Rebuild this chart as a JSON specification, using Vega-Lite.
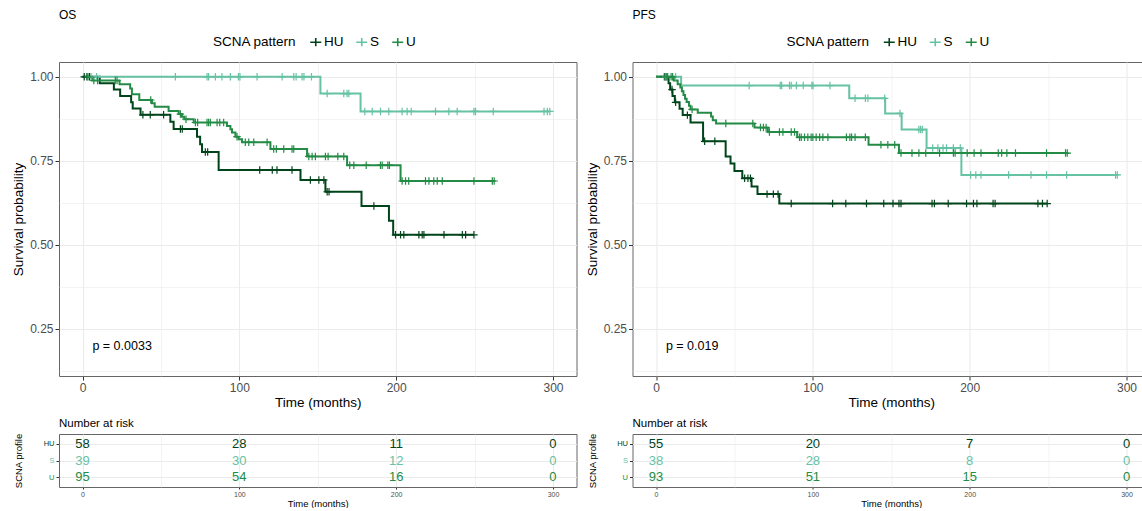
{
  "$schema": "https://vega.github.io/schema/vega-lite/v6.json",
  "background": "white",
  "padding": {"left": 11, "top": 8, "right": 0, "bottom": 0},
  "config": {
    "font": "Liberation Sans",
    "view": {"stroke": "#666666", "strokeWidth": 1},
    "title": {"fontWeight": "normal", "color": "#000000"}
  },
  "datasets": {
    "os": [
      {"g":"HU","t":0,"s":1,"c":0},{"g":"HU","t":1.1,"s":1,"c":1},{"g":"HU","t":2.8,"s":1,"c":1},{"g":"HU","t":4.5,"s":1,"c":1},{"g":"HU","t":11,"s":0.981,"c":0},{"g":"HU","t":20,"s":0.962,"c":0},{"g":"HU","t":24,"s":0.943,"c":0},{"g":"HU","t":31,"s":0.924,"c":0},{"g":"HU","t":32,"s":0.906,"c":0},{"g":"HU","t":37,"s":0.887,"c":0},{"g":"HU","t":38.5,"s":0.887,"c":1},{"g":"HU","t":43.2,"s":0.887,"c":1},{"g":"HU","t":51.7,"s":0.887,"c":1},{"g":"HU","t":56,"s":0.866,"c":0},{"g":"HU","t":58.1,"s":0.845,"c":0},{"g":"HU","t":62.4,"s":0.845,"c":1},{"g":"HU","t":63.6,"s":0.845,"c":1},{"g":"HU","t":73,"s":0.822,"c":0},{"g":"HU","t":75,"s":0.799,"c":0},{"g":"HU","t":76.2,"s":0.776,"c":0},{"g":"HU","t":78.3,"s":0.776,"c":1},{"g":"HU","t":79.8,"s":0.776,"c":1},{"g":"HU","t":86.8,"s":0.723,"c":0},{"g":"HU","t":113,"s":0.723,"c":1},{"g":"HU","t":121,"s":0.723,"c":1},{"g":"HU","t":124,"s":0.723,"c":1},{"g":"HU","t":133.6,"s":0.723,"c":1},{"g":"HU","t":139,"s":0.693,"c":0},{"g":"HU","t":145.3,"s":0.693,"c":1},{"g":"HU","t":150.7,"s":0.693,"c":1},{"g":"HU","t":153.9,"s":0.693,"c":1},{"g":"HU","t":154.9,"s":0.658,"c":0},{"g":"HU","t":156,"s":0.658,"c":1},{"g":"HU","t":157.2,"s":0.658,"c":1},{"g":"HU","t":177.9,"s":0.616,"c":0},{"g":"HU","t":185.8,"s":0.616,"c":1},{"g":"HU","t":195.4,"s":0.572,"c":0},{"g":"HU","t":198.1,"s":0.53,"c":0},{"g":"HU","t":199.6,"s":0.53,"c":1},{"g":"HU","t":202.8,"s":0.53,"c":1},{"g":"HU","t":204.9,"s":0.53,"c":1},{"g":"HU","t":214.5,"s":0.53,"c":1},{"g":"HU","t":216.6,"s":0.53,"c":1},{"g":"HU","t":217.7,"s":0.53,"c":1},{"g":"HU","t":230.5,"s":0.53,"c":1},{"g":"HU","t":242.2,"s":0.53,"c":1},{"g":"HU","t":244.3,"s":0.53,"c":1},{"g":"HU","t":249.6,"s":0.53,"c":1},
      {"g":"S","t":0,"s":1,"c":0},{"g":"S","t":5.5,"s":1,"c":1},{"g":"S","t":9,"s":1,"c":1},{"g":"S","t":59.2,"s":1,"c":1},{"g":"S","t":79.4,"s":1,"c":1},{"g":"S","t":80.4,"s":1,"c":1},{"g":"S","t":84.7,"s":1,"c":1},{"g":"S","t":88.9,"s":1,"c":1},{"g":"S","t":94.3,"s":1,"c":1},{"g":"S","t":99.4,"s":1,"c":1},{"g":"S","t":100.4,"s":1,"c":1},{"g":"S","t":111.3,"s":1,"c":1},{"g":"S","t":127.3,"s":1,"c":1},{"g":"S","t":134.7,"s":1,"c":1},{"g":"S","t":136.2,"s":1,"c":1},{"g":"S","t":140,"s":1,"c":1},{"g":"S","t":141.2,"s":1,"c":1},{"g":"S","t":146,"s":1,"c":1},{"g":"S","t":151.7,"s":0.95,"c":0},{"g":"S","t":156,"s":0.95,"c":1},{"g":"S","t":166.6,"s":0.95,"c":1},{"g":"S","t":168.7,"s":0.95,"c":1},{"g":"S","t":169.8,"s":0.95,"c":1},{"g":"S","t":177.3,"s":0.897,"c":0},{"g":"S","t":180,"s":0.897,"c":1},{"g":"S","t":184.7,"s":0.897,"c":1},{"g":"S","t":190,"s":0.897,"c":1},{"g":"S","t":195.3,"s":0.897,"c":1},{"g":"S","t":203.8,"s":0.897,"c":1},{"g":"S","t":207,"s":0.897,"c":1},{"g":"S","t":209.6,"s":0.897,"c":1},{"g":"S","t":225.1,"s":0.897,"c":1},{"g":"S","t":233.6,"s":0.897,"c":1},{"g":"S","t":238.9,"s":0.897,"c":1},{"g":"S","t":249.6,"s":0.897,"c":1},{"g":"S","t":250.6,"s":0.897,"c":1},{"g":"S","t":261.9,"s":0.897,"c":1},{"g":"S","t":294.3,"s":0.897,"c":1},{"g":"S","t":296.4,"s":0.897,"c":1},{"g":"S","t":298,"s":0.897,"c":1},
      {"g":"U","t":0,"s":1,"c":0},{"g":"U","t":3.5,"s":1,"c":1},{"g":"U","t":6,"s":0.989,"c":0},{"g":"U","t":7.2,"s":0.989,"c":1},{"g":"U","t":9.6,"s":0.989,"c":1},{"g":"U","t":20.9,"s":0.989,"c":1},{"g":"U","t":22,"s":0.989,"c":1},{"g":"U","t":23.6,"s":0.978,"c":0},{"g":"U","t":30.4,"s":0.965,"c":0},{"g":"U","t":31.5,"s":0.948,"c":0},{"g":"U","t":36.2,"s":0.931,"c":0},{"g":"U","t":43.5,"s":0.931,"c":1},{"g":"U","t":44.3,"s":0.921,"c":0},{"g":"U","t":46,"s":0.911,"c":0},{"g":"U","t":54.9,"s":0.898,"c":0},{"g":"U","t":61.3,"s":0.889,"c":0},{"g":"U","t":62.4,"s":0.889,"c":1},{"g":"U","t":63.4,"s":0.881,"c":0},{"g":"U","t":64.9,"s":0.874,"c":0},{"g":"U","t":66,"s":0.874,"c":1},{"g":"U","t":70.9,"s":0.864,"c":0},{"g":"U","t":72,"s":0.864,"c":1},{"g":"U","t":73.4,"s":0.864,"c":1},{"g":"U","t":79.4,"s":0.864,"c":1},{"g":"U","t":80.4,"s":0.864,"c":1},{"g":"U","t":81.5,"s":0.864,"c":1},{"g":"U","t":85.8,"s":0.864,"c":1},{"g":"U","t":87.5,"s":0.864,"c":1},{"g":"U","t":90,"s":0.864,"c":1},{"g":"U","t":92.1,"s":0.854,"c":0},{"g":"U","t":94.3,"s":0.844,"c":0},{"g":"U","t":95.3,"s":0.834,"c":0},{"g":"U","t":97.5,"s":0.822,"c":0},{"g":"U","t":98.5,"s":0.822,"c":1},{"g":"U","t":99.6,"s":0.814,"c":0},{"g":"U","t":101.7,"s":0.805,"c":0},{"g":"U","t":103.8,"s":0.805,"c":1},{"g":"U","t":106,"s":0.805,"c":1},{"g":"U","t":109.2,"s":0.805,"c":1},{"g":"U","t":117.7,"s":0.805,"c":1},{"g":"U","t":119.8,"s":0.785,"c":0},{"g":"U","t":121.9,"s":0.785,"c":1},{"g":"U","t":123.6,"s":0.785,"c":1},{"g":"U","t":128.3,"s":0.785,"c":1},{"g":"U","t":133.6,"s":0.785,"c":1},{"g":"U","t":134.7,"s":0.785,"c":1},{"g":"U","t":143.2,"s":0.763,"c":0},{"g":"U","t":144.3,"s":0.763,"c":1},{"g":"U","t":146.4,"s":0.763,"c":1},{"g":"U","t":148.5,"s":0.763,"c":1},{"g":"U","t":154.9,"s":0.763,"c":1},{"g":"U","t":156.6,"s":0.763,"c":1},{"g":"U","t":162.8,"s":0.763,"c":1},{"g":"U","t":166.6,"s":0.763,"c":1},{"g":"U","t":168.7,"s":0.737,"c":0},{"g":"U","t":170.4,"s":0.737,"c":1},{"g":"U","t":173,"s":0.737,"c":1},{"g":"U","t":180.9,"s":0.737,"c":1},{"g":"U","t":190,"s":0.737,"c":1},{"g":"U","t":191.1,"s":0.737,"c":1},{"g":"U","t":194.7,"s":0.737,"c":1},{"g":"U","t":195.7,"s":0.737,"c":1},{"g":"U","t":202.8,"s":0.69,"c":0},{"g":"U","t":203.8,"s":0.69,"c":1},{"g":"U","t":206,"s":0.69,"c":1},{"g":"U","t":208,"s":0.69,"c":1},{"g":"U","t":218.7,"s":0.69,"c":1},{"g":"U","t":220.9,"s":0.69,"c":1},{"g":"U","t":224,"s":0.69,"c":1},{"g":"U","t":226.2,"s":0.69,"c":1},{"g":"U","t":229.4,"s":0.69,"c":1},{"g":"U","t":249.6,"s":0.69,"c":1},{"g":"U","t":261.3,"s":0.69,"c":1},{"g":"U","t":262.5,"s":0.69,"c":1}
    ],
    "pfs": [
      {"g":"HU","t":0,"s":1,"c":0},{"g":"HU","t":5.3,"s":1,"c":1},{"g":"HU","t":6.4,"s":1,"c":1},{"g":"HU","t":8,"s":0.981,"c":0},{"g":"HU","t":9,"s":0.962,"c":0},{"g":"HU","t":10.2,"s":0.962,"c":1},{"g":"HU","t":10.5,"s":0.943,"c":0},{"g":"HU","t":12,"s":0.924,"c":0},{"g":"HU","t":12.5,"s":0.924,"c":1},{"g":"HU","t":15,"s":0.905,"c":0},{"g":"HU","t":17,"s":0.886,"c":0},{"g":"HU","t":20,"s":0.886,"c":1},{"g":"HU","t":22,"s":0.864,"c":0},{"g":"HU","t":30,"s":0.808,"c":0},{"g":"HU","t":31,"s":0.808,"c":1},{"g":"HU","t":37.5,"s":0.808,"c":1},{"g":"HU","t":44.4,"s":0.763,"c":0},{"g":"HU","t":47.5,"s":0.742,"c":0},{"g":"HU","t":50,"s":0.72,"c":0},{"g":"HU","t":55,"s":0.698,"c":0},{"g":"HU","t":56.5,"s":0.698,"c":1},{"g":"HU","t":58.6,"s":0.698,"c":1},{"g":"HU","t":60.2,"s":0.698,"c":1},{"g":"HU","t":60.9,"s":0.674,"c":0},{"g":"HU","t":64.7,"s":0.651,"c":0},{"g":"HU","t":70.8,"s":0.651,"c":1},{"g":"HU","t":74.8,"s":0.651,"c":1},{"g":"HU","t":77.8,"s":0.651,"c":1},{"g":"HU","t":78.6,"s":0.623,"c":0},{"g":"HU","t":86.2,"s":0.623,"c":1},{"g":"HU","t":112.6,"s":0.623,"c":1},{"g":"HU","t":121,"s":0.623,"c":1},{"g":"HU","t":134.2,"s":0.623,"c":1},{"g":"HU","t":145.2,"s":0.623,"c":1},{"g":"HU","t":151.1,"s":0.623,"c":1},{"g":"HU","t":154.9,"s":0.623,"c":1},{"g":"HU","t":156.2,"s":0.623,"c":1},{"g":"HU","t":176,"s":0.623,"c":1},{"g":"HU","t":177.5,"s":0.623,"c":1},{"g":"HU","t":186.3,"s":0.623,"c":1},{"g":"HU","t":198,"s":0.623,"c":1},{"g":"HU","t":202.4,"s":0.623,"c":1},{"g":"HU","t":204.6,"s":0.623,"c":1},{"g":"HU","t":214.9,"s":0.623,"c":1},{"g":"HU","t":216.2,"s":0.623,"c":1},{"g":"HU","t":243.5,"s":0.623,"c":1},{"g":"HU","t":246.4,"s":0.623,"c":1},{"g":"HU","t":249.4,"s":0.623,"c":1},
      {"g":"S","t":0,"s":1,"c":0},{"g":"S","t":5.9,"s":1,"c":1},{"g":"S","t":7,"s":1,"c":1},{"g":"S","t":12.5,"s":1,"c":1},{"g":"S","t":16,"s":0.974,"c":0},{"g":"S","t":59.4,"s":0.974,"c":1},{"g":"S","t":79.2,"s":0.974,"c":1},{"g":"S","t":80.1,"s":0.974,"c":1},{"g":"S","t":85.1,"s":0.974,"c":1},{"g":"S","t":86.2,"s":0.974,"c":1},{"g":"S","t":89.5,"s":0.974,"c":1},{"g":"S","t":93.9,"s":0.974,"c":1},{"g":"S","t":99.4,"s":0.974,"c":1},{"g":"S","t":100.1,"s":0.974,"c":1},{"g":"S","t":110.9,"s":0.974,"c":1},{"g":"S","t":123.2,"s":0.936,"c":0},{"g":"S","t":126.9,"s":0.936,"c":1},{"g":"S","t":133.5,"s":0.936,"c":1},{"g":"S","t":135.1,"s":0.936,"c":1},{"g":"S","t":145.8,"s":0.936,"c":1},{"g":"S","t":146.1,"s":0.891,"c":0},{"g":"S","t":155.5,"s":0.891,"c":1},{"g":"S","t":156.6,"s":0.843,"c":0},{"g":"S","t":167.6,"s":0.843,"c":1},{"g":"S","t":168.7,"s":0.843,"c":1},{"g":"S","t":169.8,"s":0.843,"c":1},{"g":"S","t":172.5,"s":0.788,"c":0},{"g":"S","t":176.4,"s":0.788,"c":1},{"g":"S","t":179.7,"s":0.788,"c":1},{"g":"S","t":183,"s":0.788,"c":1},{"g":"S","t":185.2,"s":0.788,"c":1},{"g":"S","t":189.6,"s":0.788,"c":1},{"g":"S","t":194,"s":0.788,"c":1},{"g":"S","t":194.7,"s":0.708,"c":0},{"g":"S","t":200.6,"s":0.708,"c":1},{"g":"S","t":203.9,"s":0.708,"c":1},{"g":"S","t":207.2,"s":0.708,"c":1},{"g":"S","t":224.8,"s":0.708,"c":1},{"g":"S","t":239.1,"s":0.708,"c":1},{"g":"S","t":249,"s":0.708,"c":1},{"g":"S","t":261.8,"s":0.708,"c":1},{"g":"S","t":293,"s":0.708,"c":1},{"g":"S","t":294.1,"s":0.708,"c":1},
      {"g":"U","t":0,"s":1,"c":0},{"g":"U","t":6.4,"s":1,"c":1},{"g":"U","t":7.4,"s":1,"c":1},{"g":"U","t":9.6,"s":1,"c":1},{"g":"U","t":10.6,"s":1,"c":1},{"g":"U","t":11.3,"s":0.989,"c":0},{"g":"U","t":13.8,"s":0.978,"c":0},{"g":"U","t":15.5,"s":0.968,"c":0},{"g":"U","t":16.5,"s":0.957,"c":0},{"g":"U","t":17.5,"s":0.946,"c":0},{"g":"U","t":18.5,"s":0.935,"c":0},{"g":"U","t":19.5,"s":0.925,"c":0},{"g":"U","t":21,"s":0.914,"c":0},{"g":"U","t":22,"s":0.903,"c":0},{"g":"U","t":23,"s":0.903,"c":1},{"g":"U","t":26.6,"s":0.893,"c":0},{"g":"U","t":35.1,"s":0.882,"c":0},{"g":"U","t":36.2,"s":0.871,"c":0},{"g":"U","t":38.3,"s":0.861,"c":0},{"g":"U","t":44.5,"s":0.861,"c":1},{"g":"U","t":61.7,"s":0.861,"c":1},{"g":"U","t":62.8,"s":0.849,"c":0},{"g":"U","t":66.6,"s":0.849,"c":1},{"g":"U","t":68.5,"s":0.849,"c":1},{"g":"U","t":70.2,"s":0.849,"c":1},{"g":"U","t":71.3,"s":0.836,"c":0},{"g":"U","t":72.3,"s":0.836,"c":1},{"g":"U","t":78.7,"s":0.836,"c":1},{"g":"U","t":80.9,"s":0.836,"c":1},{"g":"U","t":86.2,"s":0.836,"c":1},{"g":"U","t":88.3,"s":0.836,"c":1},{"g":"U","t":90,"s":0.82,"c":0},{"g":"U","t":91.5,"s":0.82,"c":1},{"g":"U","t":92.6,"s":0.82,"c":1},{"g":"U","t":94.7,"s":0.82,"c":1},{"g":"U","t":96.8,"s":0.82,"c":1},{"g":"U","t":98.9,"s":0.82,"c":1},{"g":"U","t":100,"s":0.82,"c":1},{"g":"U","t":102.1,"s":0.82,"c":1},{"g":"U","t":104.3,"s":0.82,"c":1},{"g":"U","t":106.4,"s":0.82,"c":1},{"g":"U","t":109.6,"s":0.82,"c":1},{"g":"U","t":121.4,"s":0.82,"c":1},{"g":"U","t":123.6,"s":0.82,"c":1},{"g":"U","t":124.7,"s":0.82,"c":1},{"g":"U","t":126.9,"s":0.82,"c":1},{"g":"U","t":133.5,"s":0.82,"c":1},{"g":"U","t":135.5,"s":0.798,"c":0},{"g":"U","t":143.4,"s":0.798,"c":1},{"g":"U","t":147.8,"s":0.798,"c":1},{"g":"U","t":152.2,"s":0.798,"c":1},{"g":"U","t":154.9,"s":0.773,"c":0},{"g":"U","t":156.2,"s":0.773,"c":1},{"g":"U","t":163.2,"s":0.773,"c":1},{"g":"U","t":167.6,"s":0.773,"c":1},{"g":"U","t":172,"s":0.773,"c":1},{"g":"U","t":180.8,"s":0.773,"c":1},{"g":"U","t":189.6,"s":0.773,"c":1},{"g":"U","t":190.7,"s":0.773,"c":1},{"g":"U","t":198.4,"s":0.773,"c":1},{"g":"U","t":202.8,"s":0.773,"c":1},{"g":"U","t":207.2,"s":0.773,"c":1},{"g":"U","t":218.2,"s":0.773,"c":1},{"g":"U","t":220.4,"s":0.773,"c":1},{"g":"U","t":223.7,"s":0.773,"c":1},{"g":"U","t":229.2,"s":0.773,"c":1},{"g":"U","t":249,"s":0.773,"c":1},{"g":"U","t":261.1,"s":0.773,"c":1},{"g":"U","t":262.2,"s":0.773,"c":1}
    ],
    "riskos": [
      {"g":"HU","t":0,"n":58},{"g":"HU","t":100,"n":28},{"g":"HU","t":200,"n":11},{"g":"HU","t":300,"n":0},
      {"g":"S","t":0,"n":39},{"g":"S","t":100,"n":30},{"g":"S","t":200,"n":12},{"g":"S","t":300,"n":0},
      {"g":"U","t":0,"n":95},{"g":"U","t":100,"n":54},{"g":"U","t":200,"n":16},{"g":"U","t":300,"n":0}
    ],
    "riskpfs": [
      {"g":"HU","t":0,"n":55},{"g":"HU","t":100,"n":20},{"g":"HU","t":200,"n":7},{"g":"HU","t":300,"n":0},
      {"g":"S","t":0,"n":38},{"g":"S","t":100,"n":28},{"g":"S","t":200,"n":8},{"g":"S","t":300,"n":0},
      {"g":"U","t":0,"n":93},{"g":"U","t":100,"n":51},{"g":"U","t":200,"n":15},{"g":"U","t":300,"n":0}
    ],
    "pos": [{"label": "p = 0.0033"}],
    "ppfs": [{"label": "p = 0.019"}]
  },
  "columns": 2,
  "bounds": "flush",
  "spacing": {"row": 58, "column": 55.5},
  "resolve": {"scale": {"color": "independent"}, "legend": {"color": "independent"}},
  "concat": [
    {
      "width": 517.5,
      "height": 314,
      "title": {"text": "OS", "anchor": "start", "frame": "group", "fontSize": 12, "offset": 13},
      "layer": [
        {
          "data": {"name": "os"},
          "mark": {"type": "line", "interpolate": "step-after", "strokeWidth": 2},
          "encoding": {
            "x": {"field": "t", "type": "quantitative", "scale": {"domain": [-15, 315], "nice": false, "zero": false},
              "axis": {"values": [0, 50, 100, 150, 200, 250, 300], "format": "d", "labelExpr": "datum.value % 100 === 0 ? datum.label : ''", "title": "Time (months)", "titleFontSize": 13.5, "titleFontWeight": "normal", "titleColor": "#000000", "titlePadding": 2, "labelFontSize": 12, "labelColor": "#4d4d4d", "labelPadding": 2, "labelFlush": false, "labelOverlap": false, "tickSize": 4, "tickColor": "#333333", "tickOpacity": {"condition": {"test": "datum.value % 100 === 0", "value": 1}, "value": 0}, "grid": true, "gridColor": "#ebebeb", "gridWidth": {"condition": {"test": "datum.value % 100 === 0", "value": 1.1}, "value": 0.6}, "domain": false}},
            "y": {"field": "s", "type": "quantitative", "scale": {"domain": [0.11, 1.044], "nice": false, "zero": false},
              "axis": {"values": [0.125, 0.25, 0.375, 0.5, 0.625, 0.75, 0.875, 1], "format": ".2f", "labelExpr": "(datum.value * 8) % 2 === 0 ? datum.label : ''", "title": "Survival probability", "titleFontSize": 13.5, "titleFontWeight": "normal", "titleColor": "#000000", "titleX": -40.5, "titleY": 157, "titleAngle": -90, "titleAlign": "center", "titleBaseline": "middle", "labelFontSize": 12, "labelColor": "#4d4d4d", "labelPadding": 2, "labelFlush": false, "labelOverlap": false, "tickSize": 4, "tickColor": "#333333", "tickOpacity": {"condition": {"test": "(datum.value * 8) % 2 === 0", "value": 1}, "value": 0}, "grid": true, "gridColor": "#ebebeb", "gridWidth": {"condition": {"test": "(datum.value * 8) % 2 === 0", "value": 1.1}, "value": 0.6}, "domain": false}},
            "color": {"field": "g", "type": "nominal", "scale": {"domain": ["HU", "S", "U"], "range": ["#00441B", "#66C2A4", "#238B45"]},
              "legend": {"orient": "none", "legendX": 154, "legendY": -27, "direction": "horizontal", "title": "SCNA pattern", "titleOrient": "left", "titleFontSize": 13.5, "titleFontWeight": "normal", "titleColor": "#000000", "titlePadding": 12, "labelFontSize": 13.5, "labelColor": "#000000", "labelOffset": 1.5, "symbolType": "M-1,0H1M0,-0.75V0.75", "symbolSize": 121, "symbolStrokeWidth": 1.6, "columnPadding": 9, "padding": 0}}
          }
        },
        {
          "data": {"name": "os"},
          "transform": [{"filter": "datum.c === 1"}],
          "mark": {"type": "point", "shape": "M-1,0H1M0,-1V1", "filled": false, "size": 56, "strokeWidth": 1.2, "opacity": 1},
          "encoding": {
            "x": {"field": "t", "type": "quantitative"},
            "y": {"field": "s", "type": "quantitative"},
            "color": {"field": "g", "type": "nominal", "scale": {"domain": ["HU", "S", "U"], "range": ["#00441B", "#66C2A4", "#238B45"]}, "legend": null}
          }
        },
        {
          "data": {"name": "pos"},
          "mark": {"type": "text", "align": "left", "baseline": "middle", "fontSize": 12.5, "color": "#000000"},
          "encoding": {
            "x": {"datum": 6.3, "type": "quantitative"},
            "y": {"datum": 0.2, "type": "quantitative"},
            "text": {"field": "label"}
          }
        }
      ]
    },
    {
      "width": 510.5,
      "height": 314,
      "title": {"text": "PFS", "anchor": "start", "frame": "group", "fontSize": 12, "offset": 13},
      "layer": [
        {
          "data": {"name": "pfs"},
          "mark": {"type": "line", "interpolate": "step-after", "strokeWidth": 2},
          "encoding": {
            "x": {"field": "t", "type": "quantitative", "scale": {"domain": [-15, 310.5], "nice": false, "zero": false},
              "axis": {"values": [0, 50, 100, 150, 200, 250, 300], "format": "d", "labelExpr": "datum.value % 100 === 0 ? datum.label : ''", "title": "Time (months)", "titleFontSize": 13.5, "titleFontWeight": "normal", "titleColor": "#000000", "titlePadding": 2, "titleX": 258.75, "labelFontSize": 12, "labelColor": "#4d4d4d", "labelPadding": 2, "labelFlush": false, "labelOverlap": false, "tickSize": 4, "tickColor": "#333333", "tickOpacity": {"condition": {"test": "datum.value % 100 === 0", "value": 1}, "value": 0}, "grid": true, "gridColor": "#ebebeb", "gridWidth": {"condition": {"test": "datum.value % 100 === 0", "value": 1.1}, "value": 0.6}, "domain": false}},
            "y": {"field": "s", "type": "quantitative", "scale": {"domain": [0.11, 1.044], "nice": false, "zero": false},
              "axis": {"values": [0.125, 0.25, 0.375, 0.5, 0.625, 0.75, 0.875, 1], "format": ".2f", "labelExpr": "(datum.value * 8) % 2 === 0 ? datum.label : ''", "title": "Survival probability", "titleFontSize": 13.5, "titleFontWeight": "normal", "titleColor": "#000000", "titleX": -40.5, "titleY": 157, "titleAngle": -90, "titleAlign": "center", "titleBaseline": "middle", "labelFontSize": 12, "labelColor": "#4d4d4d", "labelPadding": 2, "labelFlush": false, "labelOverlap": false, "tickSize": 4, "tickColor": "#333333", "tickOpacity": {"condition": {"test": "(datum.value * 8) % 2 === 0", "value": 1}, "value": 0}, "grid": true, "gridColor": "#ebebeb", "gridWidth": {"condition": {"test": "(datum.value * 8) % 2 === 0", "value": 1.1}, "value": 0.6}, "domain": false}},
            "color": {"field": "g", "type": "nominal", "scale": {"domain": ["HU", "S", "U"], "range": ["#00441B", "#66C2A4", "#238B45"]},
              "legend": {"orient": "none", "legendX": 154, "legendY": -27, "direction": "horizontal", "title": "SCNA pattern", "titleOrient": "left", "titleFontSize": 13.5, "titleFontWeight": "normal", "titleColor": "#000000", "titlePadding": 12, "labelFontSize": 13.5, "labelColor": "#000000", "labelOffset": 1.5, "symbolType": "M-1,0H1M0,-0.75V0.75", "symbolSize": 121, "symbolStrokeWidth": 1.6, "columnPadding": 9, "padding": 0}}
          }
        },
        {
          "data": {"name": "pfs"},
          "transform": [{"filter": "datum.c === 1"}],
          "mark": {"type": "point", "shape": "M-1,0H1M0,-1V1", "filled": false, "size": 56, "strokeWidth": 1.2, "opacity": 1},
          "encoding": {
            "x": {"field": "t", "type": "quantitative"},
            "y": {"field": "s", "type": "quantitative"},
            "color": {"field": "g", "type": "nominal", "scale": {"domain": ["HU", "S", "U"], "range": ["#00441B", "#66C2A4", "#238B45"]}, "legend": null}
          }
        },
        {
          "data": {"name": "ppfs"},
          "mark": {"type": "text", "align": "left", "baseline": "middle", "fontSize": 12.5, "color": "#000000"},
          "encoding": {
            "x": {"datum": 6.3, "type": "quantitative"},
            "y": {"datum": 0.2, "type": "quantitative"},
            "text": {"field": "label"}
          }
        }
      ]
    },
    {
      "width": 517.5,
      "height": 53,
      "title": {"text": "Number at risk", "anchor": "start", "frame": "group", "fontSize": 11.5, "offset": 4},
      "data": {"name": "riskos"},
      "mark": {"type": "text", "baseline": "middle", "fontSize": 13},
      "encoding": {
        "x": {"field": "t", "type": "quantitative", "scale": {"domain": [-15, 315], "nice": false, "zero": false},
          "axis": {"values": [0, 50, 100, 150, 200, 250, 300], "format": "d", "labelExpr": "datum.value % 100 === 0 ? datum.label : ''", "title": "Time (months)", "titleFontSize": 9.5, "titleFontWeight": "normal", "titleColor": "#000000", "titlePadding": 1, "labelFontSize": 7, "labelColor": "#4d4d4d", "labelPadding": 1, "labelFlush": false, "labelOverlap": false, "tickSize": 2, "tickColor": "#333333", "tickOpacity": {"condition": {"test": "datum.value % 100 === 0", "value": 1}, "value": 0}, "grid": true, "gridColor": "#ebebeb", "gridWidth": {"condition": {"test": "datum.value % 100 === 0", "value": 1.1}, "value": 0.6}, "domain": false}},
        "y": {"field": "g", "type": "nominal", "scale": {"type": "point", "domain": ["HU", "S", "U"], "padding": 0.6},
          "axis": {"title": "SCNA profile", "titleFontSize": 9.5, "titleFontWeight": "normal", "titleColor": "#000000", "titleX": -40.5, "titleY": 26.5, "titleAngle": -90, "titleAlign": "center", "titleBaseline": "middle", "labelFontSize": 7.5, "labelColor": {"condition": [{"test": "datum.value === 'HU'", "value": "#00441B"}, {"test": "datum.value === 'S'", "value": "#66C2A4"}], "value": "#238B45"}, "labelPadding": 2, "tickSize": 3, "tickColor": "#333333", "grid": true, "gridColor": "#ebebeb", "gridWidth": 1.1, "domain": false}},
        "text": {"field": "n", "type": "quantitative"},
        "color": {"field": "g", "type": "nominal", "scale": {"domain": ["HU", "S", "U"], "range": ["#00441B", "#66C2A4", "#238B45"]}, "legend": null}
      }
    },
    {
      "width": 510.5,
      "height": 53,
      "title": {"text": "Number at risk", "anchor": "start", "frame": "group", "fontSize": 11.5, "offset": 4},
      "data": {"name": "riskpfs"},
      "mark": {"type": "text", "baseline": "middle", "fontSize": 13},
      "encoding": {
        "x": {"field": "t", "type": "quantitative", "scale": {"domain": [-15, 310.5], "nice": false, "zero": false},
          "axis": {"values": [0, 50, 100, 150, 200, 250, 300], "format": "d", "labelExpr": "datum.value % 100 === 0 ? datum.label : ''", "title": "Time (months)", "titleFontSize": 9.5, "titleFontWeight": "normal", "titleColor": "#000000", "titlePadding": 1, "titleX": 258.75, "labelFontSize": 7, "labelColor": "#4d4d4d", "labelPadding": 1, "labelFlush": false, "labelOverlap": false, "tickSize": 2, "tickColor": "#333333", "tickOpacity": {"condition": {"test": "datum.value % 100 === 0", "value": 1}, "value": 0}, "grid": true, "gridColor": "#ebebeb", "gridWidth": {"condition": {"test": "datum.value % 100 === 0", "value": 1.1}, "value": 0.6}, "domain": false}},
        "y": {"field": "g", "type": "nominal", "scale": {"type": "point", "domain": ["HU", "S", "U"], "padding": 0.6},
          "axis": {"title": "SCNA profile", "titleFontSize": 9.5, "titleFontWeight": "normal", "titleColor": "#000000", "titleX": -40.5, "titleY": 26.5, "titleAngle": -90, "titleAlign": "center", "titleBaseline": "middle", "labelFontSize": 7.5, "labelColor": {"condition": [{"test": "datum.value === 'HU'", "value": "#00441B"}, {"test": "datum.value === 'S'", "value": "#66C2A4"}], "value": "#238B45"}, "labelPadding": 2, "tickSize": 3, "tickColor": "#333333", "grid": true, "gridColor": "#ebebeb", "gridWidth": 1.1, "domain": false}},
        "text": {"field": "n", "type": "quantitative"},
        "color": {"field": "g", "type": "nominal", "scale": {"domain": ["HU", "S", "U"], "range": ["#00441B", "#66C2A4", "#238B45"]}, "legend": null}
      }
    }
  ]
}
